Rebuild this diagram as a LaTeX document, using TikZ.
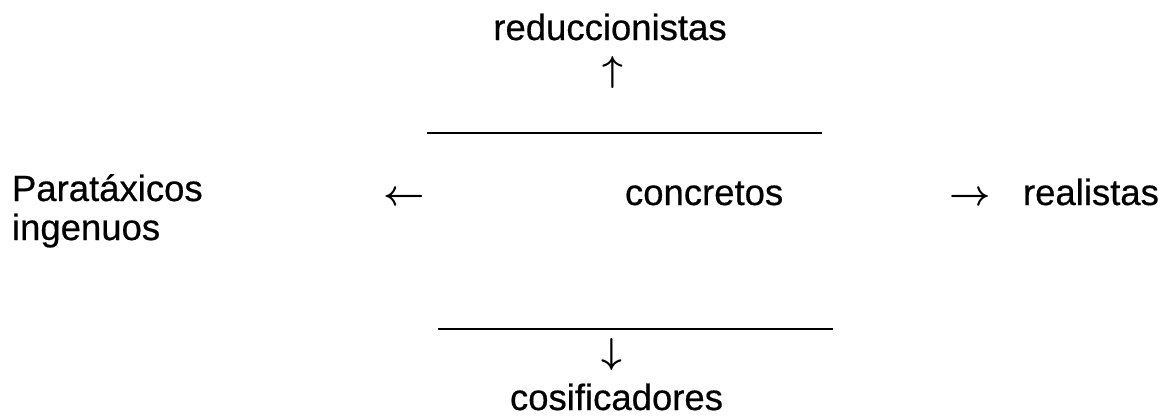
\RequirePackage{fix-cm}
\documentclass[tikz,border=0pt]{standalone}
\usepackage{fontspec}
\setmainfont[FakeBold=0.5]{Liberation Sans}
\begin{document}
\begin{tikzpicture}[x=1pt,y=-1pt,
  lbl/.style={inner sep=0pt, outer sep=0pt, font=\fontsize{36.5}{44}\selectfont},
  sym/.style={inner sep=0pt, outer sep=0pt, font=\fontsize{36}{44}\selectfont\boldmath},
  rule/.style={line width=1.9pt}]
\useasboundingbox (0,0) rectangle (1163,416);
\node[lbl, anchor=base] (red) at (610,40) {reduccionistas};
\node[sym, anchor=base] (up) at (613,81) {$\smash{\uparrow}$};
\coordinate (t1) at (427,133);
\coordinate (t2) at (822,133);
\draw[rule] (t1) -- (t2);
\node[lbl, anchor=base west] (par) at (12,201) {Paratáxicos};
\node[lbl, anchor=base west] (ing) at (12,240) {ingenuos};
\node[sym, anchor=base] (la) at (404,205) {$\leftarrow$};
\node[lbl, anchor=base west] (con) at (625,205) {concretos};
\node[sym, anchor=base] (ra) at (970,205) {$\rightarrow$};
\node[lbl, anchor=base west] (rea) at (1023,205) {realistas};
\coordinate (b1) at (438,329);
\coordinate (b2) at (833,329);
\draw[rule] (b1) -- (b2);
\node[sym, anchor=base] (down) at (612,363) {$\smash{\downarrow}$};
\node[lbl, anchor=base west] (cos) at (510,410) {cosificadores};
\end{tikzpicture}
\end{document}
